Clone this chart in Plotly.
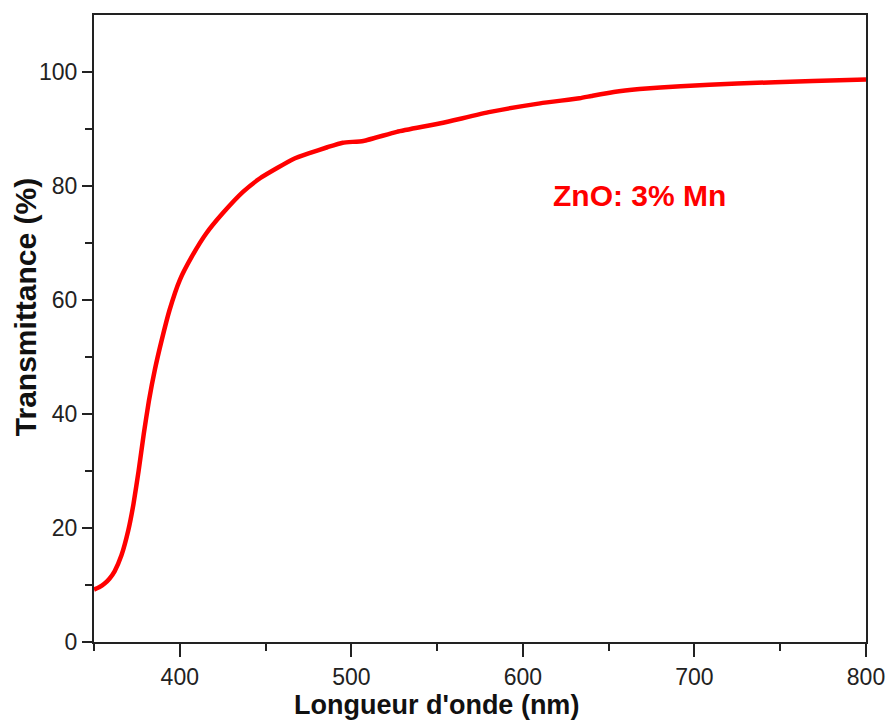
import plotly.graph_objects as go

# Optical transmittance spectrum of a Mn-doped ZnO film
wavelength_nm = [350, 353, 356, 359, 362, 366, 370, 373, 376, 379, 382, 385.5,
                 389.5, 394, 400, 407, 415.5, 425, 437, 447, 457, 466, 476, 486,
                 495, 507, 526.5, 552, 581, 610, 633, 640, 653, 668, 692, 725,
                 769, 800]
transmittance_pct = [9.2, 9.6, 10.2, 11.1, 12.4, 15.2, 19.6, 24.2, 30.0, 36.5,
                     42.3, 47.8, 53.0, 58.2, 63.5, 67.6, 71.7, 75.2, 79.0, 81.4,
                     83.2, 84.7, 85.8, 86.8, 87.6, 87.9, 89.5, 91.0, 93.0, 94.5,
                     95.4, 95.8, 96.5, 97.0, 97.5, 98.0, 98.4, 98.7]

x_tick_vals = [400, 500, 600, 700, 800]
y_tick_vals = [0, 20, 40, 60, 80, 100]
sample_label = "ZnO: 3% Mn"
x_title = "Longueur d'onde (nm)"
y_title = "Transmittance (%)"

font_family = "Liberation Sans, Arial, sans-serif"
axis_color = "#222222"

fig = go.Figure()
fig.add_trace(go.Scatter(
    x=wavelength_nm, y=transmittance_pct, mode="lines",
    line=dict(color="#ff0000", width=4.5, shape="spline", smoothing=0.5),
    showlegend=False, hoverinfo="skip",
))

fig.add_annotation(
    x=668, y=78.4, xref="x", yref="y", text=f"<b>{sample_label}</b>",
    showarrow=False, font=dict(family=font_family, size=30, color="#ff0000"),
)

# Axis titles placed as annotations in paper coordinates
fig.add_annotation(
    x=0.444, y=-0.1005, xref="paper", yref="paper", text=f"<b>{x_title}</b>",
    showarrow=False, xanchor="center", yanchor="middle",
    font=dict(family=font_family, size=27, color="#111111"),
)
fig.add_annotation(
    x=-0.0894, y=0.534, xref="paper", yref="paper", text=f"<b>{y_title}</b>",
    showarrow=False, xanchor="center", yanchor="middle", textangle=-90,
    font=dict(family=font_family, size=30, color="#111111"),
)

fig.update_layout(
    width=890, height=722,
    margin=dict(l=94, r=24, t=15, b=80, autoexpand=False),
    paper_bgcolor="white", plot_bgcolor="white",
    font=dict(family=font_family, color="#222222"),
)

fig.update_xaxes(
    range=[350, 800], tickvals=x_tick_vals, ticks="outside", ticklen=13,
    tickwidth=2, tickcolor=axis_color, showline=True, linewidth=2,
    linecolor=axis_color, mirror=True, showgrid=False, zeroline=False,
    automargin=False, tickfont=dict(size=23, color="#222222"),
    minor=dict(tickvals=[350, 450, 550, 650, 750], ticks="outside", ticklen=7,
               tickwidth=2, tickcolor=axis_color, showgrid=False),
)

fig.update_yaxes(
    range=[0, 110], tickvals=y_tick_vals, ticks="outside", ticklen=10,
    tickwidth=2, tickcolor=axis_color, showline=True, linewidth=2,
    linecolor=axis_color, mirror=True, showgrid=False, zeroline=False,
    automargin=False, tickfont=dict(size=23, color="#222222"),
    minor=dict(tickvals=[10, 30, 50, 70, 90], ticks="outside", ticklen=7,
               tickwidth=2, tickcolor=axis_color, showgrid=False),
)

fig.write_html("out.html")
